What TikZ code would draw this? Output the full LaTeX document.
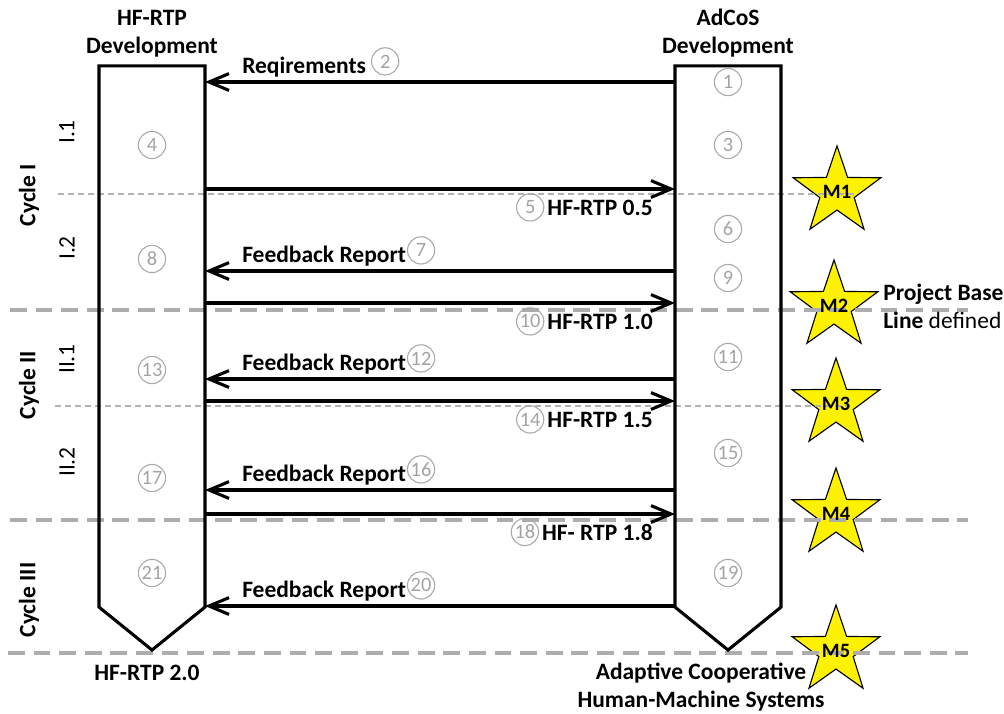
\documentclass[tikz,border=0pt]{standalone}
\usepackage{fontspec}
\setmainfont{Carlito}
\usetikzlibrary{arrows.meta,positioning,shapes.geometric}

\begin{document}
\begin{tikzpicture}[x=0.025cm, y=-0.025cm,
        col/.style={minimum width=2.65cm, minimum height=13.525cm, inner sep=0pt, outer sep=0pt},
        outline/.style={line width=2.2pt, line join=miter},
        msg/.style={line width=2.2pt, -{Straight Barb[length=0.5cm, width=0.42cm]}},
        lab/.style={font=\fontsize{16.7}{19.8}\selectfont\bfseries, inner sep=0pt},
        phase/.style={font=\fontsize{16.7}{19.8}\selectfont, inner sep=0pt, rotate=90},
        num/.style={circle, draw=black!33, text=black!36, line width=0.8pt, minimum size=0.68cm, inner sep=0pt, font=\fontsize{14.5}{14.5}\selectfont},
        mile/.style={star, star points=5, star point ratio=2.55, minimum size=2.3cm, inner sep=0pt, fill=yellow, draw=black, line width=0.8pt},
        miletext/.style={font=\fontsize{14.5}{14.5}\selectfont\bfseries, inner sep=0pt},
        cut/.style={black!32, line width=3pt, dash pattern=on 0.42cm off 0.22cm},
        subcut/.style={black!30, line width=0.9pt, dash pattern=on 0.15cm off 0.1cm}
    ]
    \useasboundingbox (0,0) rectangle (1004,713);

    % milestones
    \foreach \i/\x/\y in {1/837/192, 2/834/306, 3/836/404, 4/836/514, 5/836/651}
        \node[mile] (m\i) at (\x,\y) {};

    % cycle borders
    \draw[subcut] (58,194) -- (857,194);
    \draw[subcut] (55,406) -- (850,406);
    \draw[cut] (10,310) -- (968,310);
    \draw[cut] (10,520) -- (968,520);
    \draw[cut] (8,653) -- (968,653);

    % the two lanes
    \node[col] (hf) at (152,336.5) {};
    \node[col] (ad) at (728,336.5) {};
    \draw[outline] (hf.south west) -- (hf.north west) -- (hf.north east) -- (hf.south east) -- (hf.south |- 0,650) -- cycle;
    \draw[outline] (ad.south west) -- (ad.north west) -- (ad.north east) -- (ad.south east) -- (ad.south |- 0,650) -- cycle;

    \node[lab, align=center, anchor=south] (hfhead) at (152,57) {HF-RTP\\Development};
    \node[lab, align=center, anchor=south] (adhead) at (728,57) {AdCoS\\Development};
    \node[lab, anchor=base] (hfout) at (147,680) {HF-RTP 2.0};
    \node[lab, align=center, anchor=north] (adout) at (701,663) {Adaptive Cooperative\\Human-Machine Systems};
    \node[lab, align=left, anchor=north west] (pbl) at (883,284) {Project Base\\Line {\mdseries defined}};

    % cycles and phases
    \node[lab, rotate=90] (c1) at (29,195) {Cycle I};
    \node[lab, rotate=90] (c2) at (29,385) {Cycle II};
    \node[lab, rotate=90] (c3) at (29,600) {Cycle III};
    \node[phase] (p11) at (67,132) {I.1};
    \node[phase] (p12) at (67,248) {I.2};
    \node[phase] (p21) at (67,359) {II.1};
    \node[phase] (p22) at (67,462) {II.2};

    % steps inside the lanes
    \foreach \n/\y in {4/145, 8/259, 13/370, 17/478, 21/573}
        \node[num] (n\n) at (152,\y) {\n};
    \foreach \n/\y in {1/82, 3/145, 6/229, 9/278, 11/357, 15/453, 19/573}
        \node[num] (n\n) at (728,\y) {\n};

    % requirements
    \draw[msg] (ad.west |- 0,82) -- (hf.east |- 0,82);
    \node[lab, anchor=base west] (req) at (242,73) {Reqirements};
    \node[num, above right=0.04cm and 0.22cm of req.base east] (n2) {2};

    % feedback
    \foreach \n/\y in {7/271, 12/379, 16/490, 20/606} {
        \draw[msg] (ad.west |- 0,\y) -- (hf.east |- 0,\y);
        \node[lab, anchor=base west] (fb\n) at (242,\y-9) {Feedback Report};
        \node[num, above right=0.04cm and 0.12cm of fb\n.base east] (n\n) {\n};
    }

    % releases
    \foreach \n/\y/\txt in {5/189/HF-RTP 0.5, 10/303/HF-RTP 1.0, 14/401/HF-RTP 1.5, 18/514/HF- RTP 1.8} {
        \draw[msg] (hf.east |- 0,\y) -- (ad.west |- 0,\y);
        \node[lab, anchor=base east] (rel\n) at (653,\y+26) {\txt};
        \node[num, left=0.07cm of rel\n] (n\n) {\n};
    }

    \foreach \i in {1,...,5}
        \node[miletext] (m\i t) at (m\i) {M\i};
\end{tikzpicture}
\end{document}
